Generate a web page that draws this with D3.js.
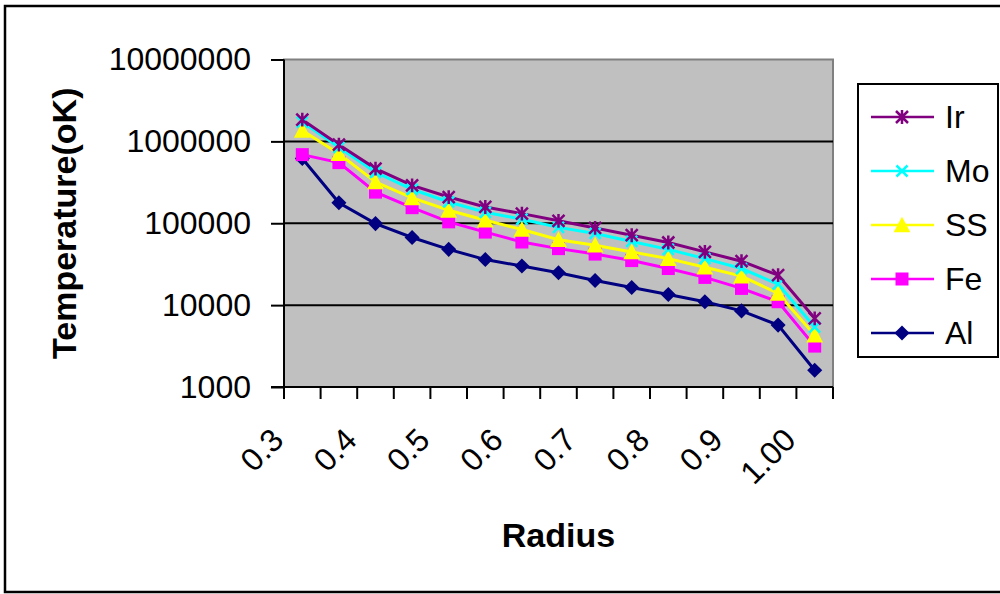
<!DOCTYPE html>
<html>
<head>
<meta charset="utf-8">
<script src="https://cdn.jsdelivr.net/npm/d3@7"></script>
<style>
  body { margin: 0; background: #fff; }
  text { font-family: "Liberation Sans", Arial, sans-serif; }
</style>
</head>
<body>
<div class="canvas"></div>
<script>
// categories (radius)
const radius = ["0.3","0.35","0.4","0.45","0.5","0.55","0.6","0.65","0.7","0.75","0.8","0.85","0.9","0.95","1.00"];
const shownLabels = ["0.3","0.4","0.5","0.6","0.7","0.8","0.9","1.00"];
const yTicks = [1000, 10000, 100000, 1000000, 10000000];

// series values, temperature (oK)
const ir = [1840000, 912000, 465000, 290000, 209000, 158000, 131000, 107000, 87600, 71400, 58200, 44700, 34400, 23200, 6900];
const mo = [1720000, 845000, 419000, 260000, 182000, 136000, 112000, 89000, 75000, 60000, 48000, 37000, 28000, 18000, 5400];
const ss = [1360000, 708000, 319000, 204000, 144000, 109000, 84000, 63000, 54000, 44600, 37000, 29000, 22600, 13900, 4300];
const fe = [689000, 550000, 240000, 155000, 104000, 78000, 59000, 49000, 42000, 35000, 28000, 21800, 16000, 11000, 3160];
const al = [617000, 178000, 99000, 67000, 48000, 36000, 30000, 24800, 20000, 16400, 13500, 11000, 8500, 5700, 1600];

const seriesNames = ["Ir", "Mo", "SS", "Fe", "Al"];
const seriesValues = [ir, mo, ss, fe, al];
const seriesColors = ["#800080", "#00ffff", "#ffff00", "#ff00ff", "#000080"];
const seriesMarkers = ["star", "cross", "triangle", "square", "diamond"];

const dims = {width: 1000, height: 594};
const plot = {left: 284, top: 59.5, right: 833, bottom: 387};

const svg = d3.select(".canvas").append("svg")
    .attr("width", dims.width)
    .attr("height", dims.height);

// outer chart border (right edge runs off the picture)
svg.append("rect")
    .attr("x", 5).attr("y", 6)
    .attr("width", 1000).attr("height", 586)
    .attr("fill", "#fff")
    .attr("stroke", "#000")
    .attr("stroke-width", 2.5);

const x = d3.scaleBand()
    .domain(radius)
    .range([plot.left, plot.right])
    .padding(0);

const y = d3.scaleLog()
    .domain([1000, 10000000])
    .range([plot.bottom, plot.top]);

// plot area
svg.append("rect")
    .attr("x", plot.left).attr("y", plot.top)
    .attr("width", plot.right - plot.left)
    .attr("height", plot.bottom - plot.top)
    .attr("fill", "#c0c0c0")
    .attr("stroke", "#808080")
    .attr("stroke-width", 2);

// gridlines
svg.append("g")
    .selectAll("line")
    .data(yTicks.slice(1, -1))
    .enter().append("line")
    .attr("x1", plot.left).attr("x2", plot.right)
    .attr("y1", d => y(d)).attr("y2", d => y(d))
    .attr("stroke", "#000")
    .attr("stroke-width", 2);

// y axis
const yAxis = svg.append("g")
    .attr("transform", `translate(${plot.left},0)`)
    .call(d3.axisLeft(y).tickValues(yTicks).tickFormat(d3.format("d")).tickSize(13).tickPadding(20));
yAxis.select(".domain").attr("stroke", "#000").attr("stroke-width", 2)
    .attr("d", `M0,${plot.top}V${plot.bottom + 12}`);
yAxis.selectAll(".tick line").attr("stroke", "#000").attr("stroke-width", 2);
yAxis.selectAll(".tick text")
    .attr("font-size", 32)
    .attr("fill", "#000")
    .attr("font-family", "Liberation Sans, Arial, sans-serif");

// x axis
svg.append("line")
    .attr("x1", plot.left - 13).attr("x2", plot.right)
    .attr("y1", plot.bottom).attr("y2", plot.bottom)
    .attr("stroke", "#000").attr("stroke-width", 2);

const tickEdges = radius.map(d => x(d)).concat([x.range()[1]]);
svg.append("g")
    .selectAll("line")
    .data(tickEdges)
    .enter().append("line")
    .attr("x1", d => d).attr("x2", d => d)
    .attr("y1", plot.bottom).attr("y2", plot.bottom + 12)
    .attr("stroke", "#000").attr("stroke-width", 2);

svg.append("g")
    .selectAll("text")
    .data(shownLabels)
    .enter().append("text")
    .attr("transform", d => `translate(${x(d) + x.bandwidth() / 2 - 17}, 442) rotate(-45)`)
    .attr("text-anchor", "end")
    .attr("font-size", 32)
    .text(d => d);

// axis titles
svg.append("text")
    .attr("x", (plot.left + plot.right) / 2)
    .attr("y", 547)
    .attr("text-anchor", "middle")
    .attr("font-size", 34)
    .attr("font-weight", "bold")
    .text("Radius");

svg.append("text")
    .attr("transform", `translate(76, ${(plot.top + plot.bottom) / 2}) rotate(-90)`)
    .attr("text-anchor", "middle")
    .attr("font-size", 34)
    .attr("font-weight", "bold")
    .text("Temperature(oK)");

// marker drawing
const drawMarker = (g, type, color, s) => {
    if (type === "star") {
        const h = s / 2;
        g.append("path")
            .attr("d", `M${-h},${-h}L${h},${h}M${-h},${h}L${h},${-h}M0,${-h * 1.15}V${h * 1.15}`)
            .attr("stroke", color).attr("stroke-width", 2.5).attr("fill", "none");
    } else if (type === "cross") {
        const h = s / 2;
        g.append("path")
            .attr("d", `M${-h},${-h}L${h},${h}M${-h},${h}L${h},${-h}`)
            .attr("stroke", color).attr("stroke-width", 2.5).attr("fill", "none");
    } else if (type === "triangle") {
        const w = s * 1.2, h = s * 1.05;
        g.append("path")
            .attr("d", `M0,${-h / 2 - 1}L${w / 2},${h / 2}L${-w / 2},${h / 2}Z`)
            .attr("fill", color);
    } else if (type === "square") {
        g.append("rect")
            .attr("x", -s / 2).attr("y", -s / 2)
            .attr("width", s).attr("height", s)
            .attr("fill", color);
    } else if (type === "diamond") {
        const h = s * 0.58;
        g.append("path")
            .attr("d", `M0,${-h}L${h},0L0,${h}L${-h},0Z`)
            .attr("fill", color);
    }
};

const markerSize = {star: 12, cross: 11, triangle: 14, square: 13, diamond: 13};

const line = d3.line()
    .x((d, i) => x(radius[i]) + x.bandwidth() / 2)
    .y(d => y(d));

// lines first, Al at the bottom, Ir on top
const order = [4, 3, 2, 1, 0];
order.forEach(k => {
    svg.append("path")
        .datum(seriesValues[k])
        .attr("fill", "none")
        .attr("stroke", seriesColors[k])
        .attr("stroke-width", 3)
        .attr("d", line);
});
order.forEach(k => {
    seriesValues[k].forEach((v, i) => {
        const g = svg.append("g")
            .attr("transform", `translate(${x(radius[i]) + x.bandwidth() / 2}, ${y(v)})`);
        drawMarker(g, seriesMarkers[k], seriesColors[k], markerSize[seriesMarkers[k]]);
    });
});

// legend
const legend = svg.append("g");
legend.append("rect")
    .attr("x", 858).attr("y", 84)
    .attr("width", 140).attr("height", 273)
    .attr("fill", "#fff")
    .attr("stroke", "#000")
    .attr("stroke-width", 2);

seriesNames.forEach((name, k) => {
    const ly = 117 + k * 54;
    legend.append("line")
        .attr("x1", 871).attr("x2", 934)
        .attr("y1", ly).attr("y2", ly)
        .attr("stroke", seriesColors[k]).attr("stroke-width", 2.5);
    const g = legend.append("g").attr("transform", `translate(902, ${ly})`);
    drawMarker(g, seriesMarkers[k], seriesColors[k], markerSize[seriesMarkers[k]]);
    legend.append("text")
        .attr("x", 945).attr("y", ly + 11)
        .attr("font-size", 32)
        .text(name);
});
</script>
</body>
</html>
